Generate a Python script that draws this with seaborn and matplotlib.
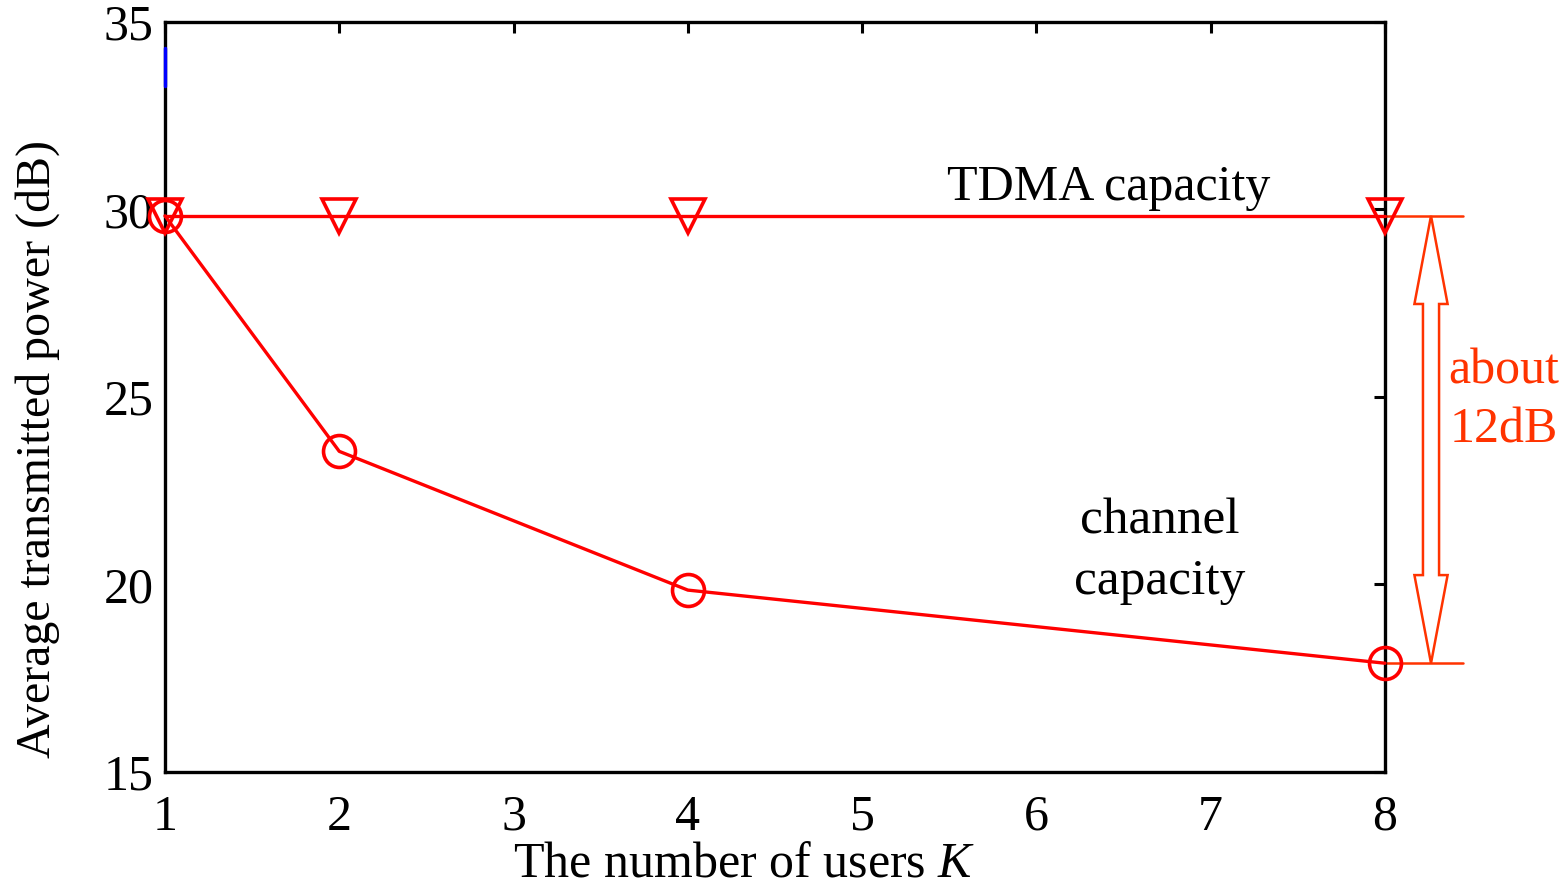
import numpy as np
import pandas as pd
import matplotlib
matplotlib.use("Agg")
import matplotlib.pyplot as plt
import matplotlib.transforms as mtransforms
from matplotlib.patches import Polygon
import seaborn as sns

# data
users_k = [1, 2, 4, 8]
tdma_power = [29.83, 29.83, 29.83, 29.83]
channel_power = [29.83, 23.55, 19.85, 17.9]
x_ticks = [1, 2, 3, 4, 5, 6, 7, 8]
y_ticks = [15, 20, 25, 30, 35]

RED = "#ff0000"
ORANGE = "#ff3300"

sns.set_style("white")
plt.rcParams["font.family"] = ["Liberation Serif", "DejaVu Serif"]
plt.rcParams["mathtext.fontset"] = "custom"
plt.rcParams["mathtext.it"] = "Liberation Serif:italic"
plt.rcParams["mathtext.rm"] = "Liberation Serif"
for k in ("text.color", "axes.labelcolor", "xtick.color", "ytick.color"):
    plt.rcParams[k] = "black"

FS = 36

fig = plt.figure(figsize=(15.68, 8.86), dpi=100)
ax = fig.add_axes([0.1052, 0.1287, 0.7781, 0.8465])

df = pd.DataFrame({"K": users_k, "tdma": tdma_power, "chan": channel_power})
sns.lineplot(data=df, x="K", y="tdma", ax=ax, color=RED, lw=2.4,
             marker="v", markersize=25, markerfacecolor="none",
             markeredgecolor=RED, markeredgewidth=2.6, clip_on=False, zorder=3)
sns.lineplot(data=df, x="K", y="chan", ax=ax, color=RED, lw=2.4,
             marker="o", markersize=23, markerfacecolor="none",
             markeredgecolor=RED, markeredgewidth=2.6, clip_on=False, zorder=3)

# small blue fragment on the left axis
ax.plot([1, 1], [33.3, 34.3], color="#0000ff", lw=2.5, clip_on=False, zorder=4)

ax.set_xlim(1, 8)
ax.set_ylim(15, 35)
ax.set_xticks(x_ticks)
ax.set_yticks(y_ticks)
ax.tick_params(direction="in", length=8, width=2.2, labelsize=FS,
               top=True, right=True)
ax.tick_params(axis="x", pad=16)
ax.tick_params(axis="y", pad=8)
for s in ax.spines.values():
    s.set_linewidth(2.4)
    s.set_color("black")
ax.set_xlabel("The number of users $\\it{K}$", fontsize=FS)
ax.xaxis.set_label_coords(0.475, -0.092)
ax.set_ylabel("Average transmitted power (dB)", fontsize=34.5)
ax.yaxis.set_label_coords(-0.086, 0.43)

ax.text(6.415, 29.95, "TDMA capacity", fontsize=FS, ha="center", va="bottom")
ax.text(6.71, 20.87, "channel\ncapacity", fontsize=37, ha="center",
        va="center", linespacing=1.4)

# double-headed hollow arrow showing the gap
trans = mtransforms.blended_transform_factory(ax.transAxes, ax.transData)
top = tdma_power[-1]
bot = channel_power[-1]
for yv in (top, bot):
    ax.plot([1.0, 1.064], [yv, yv], color=ORANGE, lw=1.8, transform=trans,
            clip_on=False, zorder=2)
cx, hw, sw, hl = 1.0377, 0.0136, 0.0066, 2.35
pts = [(cx, top), (cx + hw, top - hl), (cx + sw, top - hl),
       (cx + sw, bot + hl), (cx + hw, bot + hl), (cx, bot),
       (cx - hw, bot + hl), (cx - sw, bot + hl), (cx - sw, top - hl),
       (cx - hw, top - hl)]
ax.add_patch(Polygon(pts, closed=True, facecolor="white", edgecolor=ORANGE,
                     lw=1.8, transform=trans, clip_on=False, zorder=2))
ax.text(1.0975, 24.9, "about\n12dB", color=ORANGE, fontsize=FS, ha="center",
        va="center", transform=trans, linespacing=1.35)

fig.savefig("out.png", dpi=100)
